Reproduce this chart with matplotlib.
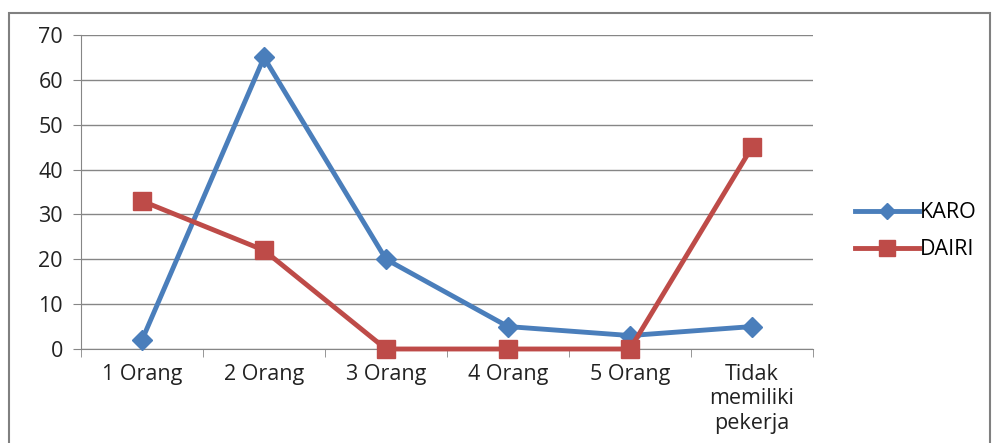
import matplotlib.pyplot as plt
import matplotlib.patches as mpatches

categories = ['1 Orang', '2 Orang', '3 Orang', '4 Orang', '5 Orang', 'Tidak\nmemiliki\npekerja']
karo = [2, 65, 20, 5, 3, 5]
dairi = [33, 22, 0, 0, 0, 45]

plt.rcParams['font.family'] = ['Open Sans', 'DejaVu Sans']

fig = plt.figure(figsize=(9.95, 4.43), dpi=100)
ax = fig.add_axes([81/995, 1-349/443, (813-81)/995, (349-35)/443])

# outer frame like the spreadsheet chart area
fig.patches.append(mpatches.Rectangle((9/995, -0.01), (990-9)/995, 1-13/443+0.01,
                                      transform=fig.transFigure, fill=False,
                                      edgecolor='#808080', linewidth=1.5))

x = list(range(len(categories)))
ax.plot(x, karo, color='#4A7EBB', linewidth=3.5, marker='D', markersize=10,
        label='KARO', zorder=3, clip_on=False)
ax.plot(x, dairi, color='#BE4B48', linewidth=3.5, marker='s', markersize=13,
        label='DAIRI', zorder=3, clip_on=False)

fs = 15.5
ax.set_xlim(-0.5, len(categories) - 0.5)
ax.set_ylim(0, 70)
ax.set_yticks(range(0, 71, 10))
ax.set_xticks(x)
ax.set_xticklabels(categories, fontsize=fs, color='#222222', linespacing=1.2)
ax.set_xticks([i - 0.5 for i in range(len(categories) + 1)], minor=True)
ax.tick_params(axis='x', which='major', length=0, pad=11)
ax.tick_params(axis='x', which='minor', length=6, color='#868686', direction='out')
ax.tick_params(axis='y', length=6, color='#868686', labelsize=fs, labelcolor='#222222', pad=7)

ax.grid(axis='y', color='#868686', linewidth=1)
ax.set_axisbelow(True)
for s in ['top', 'right']:
    ax.spines[s].set_visible(False)
for s in ['left', 'bottom']:
    ax.spines[s].set_color('#868686')

ax.legend(loc='center left', bbox_to_anchor=(1.045, 0.375), frameon=False,
          fontsize=fs, handlelength=3.0, handletextpad=0.05, labelspacing=0.75,
          borderaxespad=0, markerscale=0.85)

fig.savefig('out.png', dpi=100)
